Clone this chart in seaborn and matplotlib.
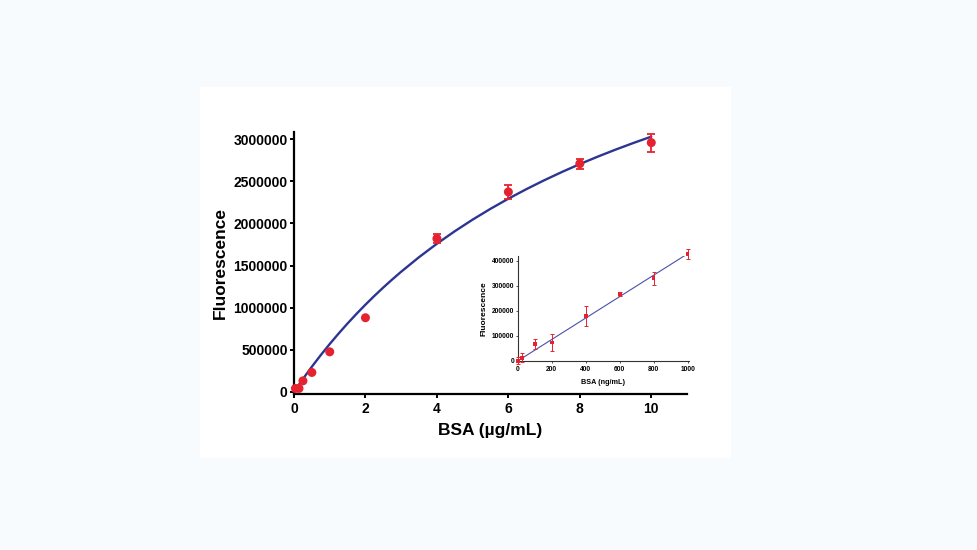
import numpy as np
import pandas as pd
import matplotlib
matplotlib.use("Agg")
import matplotlib.pyplot as plt
from matplotlib.patches import Rectangle
import seaborn as sns

# main plot: BSA standard curve (ug/mL)
bsa_ug = [0.04, 0.14, 0.25, 0.5, 1, 2, 4, 6, 8, 10]
fluor_main = [40000, 40000, 130000, 230000, 475000, 880000, 1820000, 2375000, 2710000, 2960000]
err_main = [0, 0, 0, 0, 0, 0, 55000, 80000, 60000, 108000]

# fitted saturation curve
fit_x = [0.1, 0.25, 0.5, 0.75, 1, 1.25, 1.5, 1.75, 2, 2.25, 2.5, 2.75, 3,
         3.5, 4, 4.5, 5, 5.5, 6, 6.5, 7, 7.5, 8, 8.5, 9, 9.5, 10]
fit_y = [62000, 153000, 298500, 436600, 568000, 693100, 812500, 926500,
         1035400, 1139600, 1239400, 1335100, 1426800, 1599600, 1759400,
         1907600, 2045500, 2174000, 2294100, 2406700, 2512300, 2611600,
         2705200, 2793500, 2877000, 2956100, 3031100]

# inset: low range (ng/mL)
bsa_ng = [0, 25, 100, 200, 400, 600, 800, 1000]
fluor_inset = [0, 11000, 67000, 73000, 180000, 266000, 330000, 426000]
err_inset = [15000, 18000, 21000, 35000, 40000, 9000, 26000, 21000]
lin_x = [0, 1000]
lin_y = [-1000, 428000]

main_ticks_x = [0, 2, 4, 6, 8, 10]
main_ticks_y = [0, 500000, 1000000, 1500000, 2000000, 2500000, 3000000]
inset_ticks_x = [0, 200, 400, 600, 800, 1000]
inset_ticks_y = [0, 100000, 200000, 300000, 400000]

sns.set_theme(style="ticks")
plt.rcParams['font.family'] = ['Liberation Sans', 'DejaVu Sans']
plt.rcParams['font.weight'] = 'bold'
plt.rcParams['text.color'] = 'black'
plt.rcParams['axes.labelcolor'] = 'black'
plt.rcParams['xtick.color'] = 'black'
plt.rcParams['ytick.color'] = 'black'
plt.rcParams['xtick.labelcolor'] = 'black'
plt.rcParams['ytick.labelcolor'] = 'black'

RED = '#e52330'
NAVY = '#2c3592'

df_main = pd.DataFrame({'x': bsa_ug, 'y': fluor_main, 'e': err_main})
df_fit = pd.DataFrame({'x': fit_x, 'y': fit_y})
df_in = pd.DataFrame({'x': bsa_ng, 'y': fluor_inset, 'e': err_inset})
df_lin = pd.DataFrame({'x': lin_x, 'y': lin_y})

fig = plt.figure(figsize=(9.77, 5.5), dpi=100)
fig.patch.set_facecolor('#f7fbfd')
fig.patches.append(Rectangle((200 / 977, 92 / 550), 531 / 977, 371 / 550,
                             transform=fig.transFigure, facecolor='white',
                             edgecolor='none', zorder=-1))

ax = fig.add_axes([294 / 977, (550 - 393.5) / 550, 393 / 977, 261.8 / 550])
ax.patch.set_alpha(0)

sns.lineplot(data=df_fit, x='x', y='y', ax=ax, color=NAVY, linewidth=1.7,
             sort=False, zorder=2)
ax.errorbar(df_main['x'], df_main['y'], yerr=df_main['e'], fmt='none',
            ecolor=RED, elinewidth=1.3, capsize=3.2, capthick=1.3,
            zorder=3, clip_on=False)
sns.scatterplot(data=df_main, x='x', y='y', ax=ax, color=RED, s=42,
                edgecolor='none', zorder=4, clip_on=False)

ax.set_xlim(0, 11)
ax.set_ylim(-20000, 3090000)
ax.set_xticks(main_ticks_x)
ax.set_yticks(main_ticks_y)
ax.set_yticklabels([str(v) for v in main_ticks_y])
ax.tick_params(labelsize=10, width=1.4, length=3, pad=1.5)
ax.tick_params(axis='x', pad=3)
for lab in ax.get_xticklabels() + ax.get_yticklabels():
    lab.set_fontweight('bold')
ax.set_xlabel('BSA (µg/mL)', fontsize=12.5, fontweight='bold', labelpad=5)
ax.set_ylabel('Fluorescence', fontsize=12.5, fontweight='bold', labelpad=4)
sns.despine(ax=ax)
for s in ['left', 'bottom']:
    ax.spines[s].set_linewidth(1.6)
    ax.spines[s].set_color('black')

# inset
axi = fig.add_axes([517.7 / 977, (550 - 360.7) / 550, 171.3 / 977, 104.7 / 550])
axi.patch.set_alpha(0)
sns.lineplot(data=df_lin, x='x', y='y', ax=axi, color='#4b4fa8',
             linewidth=0.8, zorder=2)
axi.errorbar(df_in['x'], df_in['y'], yerr=df_in['e'], fmt='none',
             ecolor=RED, elinewidth=0.7, capsize=1.6, capthick=0.7,
             zorder=3, clip_on=False)
sns.scatterplot(data=df_in, x='x', y='y', ax=axi, color=RED, s=7,
                marker='s', edgecolor='none', zorder=4, clip_on=False)
axi.set_xlim(0, 1008)
axi.set_ylim(0, 419000)
axi.set_xticks(inset_ticks_x)
axi.set_yticks(inset_ticks_y)
axi.set_yticklabels([str(v) for v in inset_ticks_y])
axi.tick_params(labelsize=4.8, width=0.6, length=1.5, pad=1, color='#333333')
axi.tick_params(axis='x', pad=2.5)
for lab in axi.get_xticklabels() + axi.get_yticklabels():
    lab.set_fontweight('bold')
axi.set_xlabel('BSA (ng/mL)', fontsize=5.2, fontweight='bold', labelpad=4)
axi.set_ylabel('Fluorescence', fontsize=6, fontweight='bold', labelpad=3)
sns.despine(ax=axi)
for s in ['left', 'bottom']:
    axi.spines[s].set_linewidth(0.8)
    axi.spines[s].set_color('#333333')

fig.savefig('out.png', dpi=100, facecolor=fig.get_facecolor())
